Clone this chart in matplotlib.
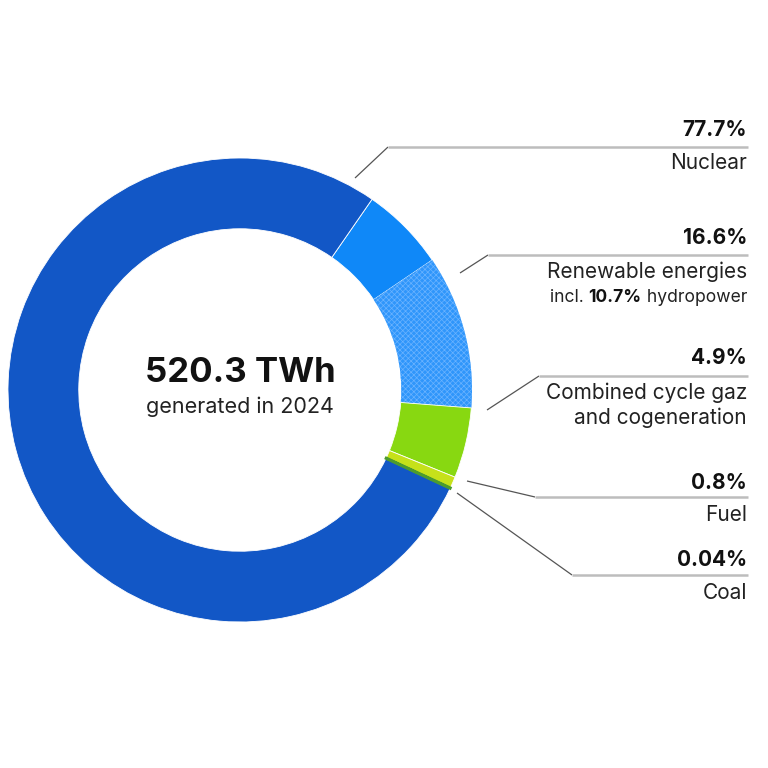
import matplotlib
matplotlib.use("Agg")
import matplotlib.pyplot as plt

# share of 2024 generation (%), clockwise from the top-right
sources = ["Other renewables", "Hydropower", "Combined cycle gaz", "Fuel", "Coal", "Nuclear"]
shares = [5.9, 10.7, 4.9, 0.8, 0.04, 77.7]
colors = ["#0f88f8", "#2f96fb", "#88d811", "#c6e11a", "#4c9b2f", "#1257c6"]

total_twh = "520.3 TWh"
subtitle = "generated in 2024"

label_pcts = ["77.7%", "16.6%", "4.9%", "0.8%", "0.04%"]
label_names = ["Nuclear", "Renewable energies", "Combined cycle gaz\nand cogeneration", "Fuel", "Coal"]

H = 768
plt.rcParams["font.family"] = ["Inter", "DejaVu Sans"]
plt.rcParams["hatch.linewidth"] = 0.5

fig = plt.figure(figsize=(7.68, 7.68), dpi=100)
ax = fig.add_axes([0, 0, 1, 1])

cx, cy, r = 240, H - 390, 232
wedges, _ = ax.pie(shares, colors=colors, center=(cx, cy), radius=r,
                   startangle=55.3, counterclock=False, frame=True,
                   wedgeprops=dict(width=r * 0.305, edgecolor="white", linewidth=0.6))
ax.set_xlim(0, H)
ax.set_ylim(0, H)
ax.set_aspect("equal")
ax.axis("off")

# hatched hydropower part
wedges[1].set_hatch("xxxxxx")
wedges[1].set_edgecolor("#6ab3ff")
wedges[1].set_linewidth(0)
# coal is tiny, give it a visible outline in its own colour, drawn on top
wedges[4].set_edgecolor(colors[4])
wedges[4].set_linewidth(2.0)
wedges[4].set_zorder(3)

ax.text(cx, H - 373, total_twh, ha="center", va="center", fontsize=25,
        fontweight="bold", color="#111111")
ax.text(cx, H - 407, subtitle, ha="center", va="center", fontsize=15.5,
        color="#222222")

# leader lines: (ring end, elbow), in pixels from top
leaders = [
    ((355, 178), (388, 147)),
    ((460, 273), (488, 255)),
    ((487, 410), (539, 376)),
    ((467, 481), (535, 497)),
    ((457, 493), (572, 575)),
]
pct_y = [130, 238, 358, 483, 560]
name_y = [163, 272, 405, 515, 593]
xr = 747

for (p0, p1), py, ny, pct, name in zip(leaders, pct_y, name_y, label_pcts, label_names):
    ax.plot([p0[0], p1[0]], [H - p0[1], H - p1[1]], color="#555555", lw=0.9,
            solid_capstyle="butt")
    ax.plot([p1[0], xr + 1], [H - p1[1], H - p1[1]], color="#bdbdbd", lw=1.8,
            solid_capstyle="butt")
    ax.text(xr, H - py, pct, ha="right", va="center", fontsize=15,
            fontweight="bold", color="#111111")
    ax.text(xr, H - ny, name, ha="right", va="center", fontsize=15,
            color="#222222", linespacing=1.25)

# hydropower note under the renewables label
note_y = H - 298
t = ax.text(xr, note_y, " hydropower", ha="right", va="center", fontsize=12.6,
            color="#222222")
fig.canvas.draw()
bb = t.get_window_extent()
t2 = ax.text(bb.x0, note_y, "10.7%", ha="right", va="center", fontsize=12.6,
             fontweight="bold", color="#111111")
bb2 = t2.get_window_extent()
ax.text(bb2.x0, note_y, "incl. ", ha="right", va="center", fontsize=12.6,
        color="#222222")

fig.savefig("out.png", dpi=100, facecolor="white")
